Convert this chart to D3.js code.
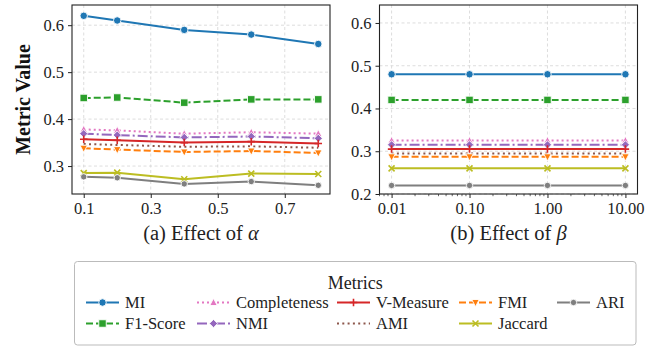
<!DOCTYPE html>
<html>
<head>
<meta charset="utf-8">
<script src="https://cdn.jsdelivr.net/npm/d3@7"></script>
<style>
  body { margin: 0; background: #fff; }
  svg, svg text { font-family: "Liberation Serif", "Times New Roman", serif !important; }
  svg { display: block; }
</style>
</head>
<body>
<div id="chart"></div>
<script>
// ---- data ----
const metrics = ["MI", "F1-Score", "Completeness", "NMI", "V-Measure", "AMI", "FMI", "Jaccard", "ARI"];

const alphaValues = [0.1, 0.2, 0.4, 0.6, 0.8];
const betaValues = [0.01, 0.1, 1, 10];

// one row per metric, same order as `metrics`
const alphaScores = [
    [0.620, 0.610, 0.590, 0.580, 0.560],
    [0.445, 0.446, 0.435, 0.442, 0.442],
    [0.378, 0.376, 0.369, 0.372, 0.369],
    [0.369, 0.366, 0.361, 0.363, 0.359],
    [0.357, 0.355, 0.350, 0.352, 0.348],
    [0.347, 0.345, 0.341, 0.342, 0.339],
    [0.338, 0.335, 0.330, 0.332, 0.328],
    [0.285, 0.286, 0.272, 0.284, 0.283],
    [0.277, 0.275, 0.262, 0.267, 0.259]
];
const betaScores = [
    [0.480, 0.480, 0.480, 0.480],
    [0.420, 0.420, 0.420, 0.420],
    [0.325, 0.325, 0.325, 0.325],
    [0.315, 0.315, 0.315, 0.315],
    [0.305, 0.305, 0.305, 0.305],
    [0.295, 0.295, 0.295, 0.295],
    [0.287, 0.287, 0.287, 0.287],
    [0.260, 0.260, 0.260, 0.260],
    [0.220, 0.220, 0.220, 0.220]
];

const alphaTicks = [0.1, 0.3, 0.5, 0.7];
const betaTicks = [0.01, 0.1, 1, 10];
const alphaYTicks = [0.3, 0.4, 0.5, 0.6];
const betaYTicks = [0.2, 0.3, 0.4, 0.5, 0.6];

// ---- styles ----
const colors = ["#1f77b4", "#2ca02c", "#e377c2", "#9467bd", "#d62728", "#8c564b", "#ff7f0e", "#bcbd22", "#7f7f7f"];
const dashes = ["none", "7,3", "2,3", "10,3,2,3", "none", "2,3.3", "7,3", "none", "none"];
const markers = ["circle", "square", "triangleUp", "diamond", "plus", "none", "triangleDown", "cross", "dot"];
const serif = "'Liberation Serif', 'Times New Roman', serif";

const W = 665, H = 350;
const svg = d3.select("#chart").append("svg")
    .attr("width", W)
    .attr("height", H);

// marker path builder, centred on 0,0
function markerPath(type, s) {
    const h = s / 2;
    switch (type) {
        case "circle": return d3.symbol(d3.symbolCircle, Math.PI * h * h)();
        case "dot": return d3.symbol(d3.symbolCircle, Math.PI * 3.2 * 3.2)();
        case "square": return `M${-h},${-h}H${h}V${h}H${-h}Z`;
        case "triangleUp": return `M0,${-h * 1.1}L${h},${h * 0.8}L${-h},${h * 0.8}Z`;
        case "triangleDown": return `M0,${h * 1.1}L${h},${-h * 0.8}L${-h},${-h * 0.8}Z`;
        case "diamond": return `M0,${-h * 1.1}L${h * 1.1},0L0,${h * 1.1}L${-h * 1.1},0Z`;
        case "plus": return `M${-h},0H${h}M0,${-h}V${h}`;
        case "cross": return `M${-h * 0.8},${-h * 0.8}L${h * 0.8},${h * 0.8}M${h * 0.8},${-h * 0.8}L${-h * 0.8},${h * 0.8}`;
        default: return null;
    }
}

function drawMarker(g, type, color, x, y) {
    if (type === "none") return;
    const p = g.append("path")
        .attr("d", markerPath(type, 7.5))
        .attr("transform", `translate(${x},${y})`);
    if (type === "plus" || type === "cross") {
        p.attr("fill", "none").attr("stroke", color).attr("stroke-width", 1.6);
    } else {
        p.attr("fill", color).attr("stroke", "#fff").attr("stroke-width", 0.9);
    }
}

function drawPanel(opts) {
    const { left, right, y0, y1, x, y, xs, data, xTicks, yTicks, xFormat, label, logMinor } = opts;

    const g = svg.append("g");

    // grid
    const grid = g.append("g").attr("stroke", "#d4d4d4").attr("stroke-width", 0.8).attr("stroke-dasharray", "3,2.5");
    xTicks.forEach(t => grid.append("line")
        .attr("x1", x(t)).attr("x2", x(t)).attr("y1", y0).attr("y2", y1));
    yTicks.forEach(t => grid.append("line")
        .attr("x1", left).attr("x2", right).attr("y1", y(t)).attr("y2", y(t)));

    // series
    const lineGen = d3.line().x(d => x(d[0])).y(d => y(d[1]));
    data.forEach((vals, i) => {
        const pts = xs.map((xv, j) => [xv, vals[j]]);
        g.append("path")
            .attr("d", lineGen(pts))
            .attr("fill", "none")
            .attr("stroke", colors[i])
            .attr("stroke-width", 2)
            .attr("stroke-dasharray", dashes[i]);
    });
    data.forEach((vals, i) => {
        xs.forEach((xv, j) => drawMarker(g, markers[i], colors[i], x(xv), y(vals[j])));
    });

    // axes
    const xAxis = g.append("g")
        .attr("transform", `translate(0,${y1})`)
        .call(d3.axisBottom(x).tickValues(xTicks).tickFormat(xFormat).tickSize(4).tickPadding(4));
    const yAxis = g.append("g")
        .attr("transform", `translate(${left},0)`)
        .call(d3.axisLeft(y).tickValues(yTicks).tickFormat(d3.format(".1f")).tickSize(4).tickPadding(4));
    [xAxis, yAxis].forEach(a => {
        a.attr("font-family", null).attr("font-size", null);
        a.select(".domain").remove();
        a.selectAll("text").style("font-size", "16.5px").style("font-family", serif).attr("fill", "#222");
        a.selectAll("line").attr("stroke", "#222").attr("stroke-width", 1);
    });

    if (logMinor) {
        const [d0, d1] = x.domain();
        const minor = [];
        for (let e = -3; e <= 1; e++) {
            for (let m = 2; m <= 9; m++) {
                const v = m * Math.pow(10, e);
                if (v > d0 && v < d1) minor.push(v);
            }
        }
        g.append("g").selectAll("line").data(minor).join("line")
            .attr("x1", d => x(d)).attr("x2", d => x(d))
            .attr("y1", y1).attr("y2", y1 + 2.2)
            .attr("stroke", "#222").attr("stroke-width", 0.7);
    }

    // frame
    g.append("rect")
        .attr("x", left).attr("y", y0)
        .attr("width", right - left).attr("height", y1 - y0)
        .attr("fill", "none").attr("stroke", "#222").attr("stroke-width", 1.1);

    // x label
    const t = g.append("text")
        .attr("x", (left + right) / 2)
        .attr("y", 239.5)
        .attr("text-anchor", "middle")
        .style("font-size", "20.5px")
        .attr("fill", "#222");
    t.append("tspan").text(label[0]);
    t.append("tspan").attr("font-style", "italic").text(label[1]);
}

// panel (a)
const aLeft = 72, aRight = 330, plotTop = 5, plotBottom = 194;
const xa = d3.scaleLinear().domain([0.065, 0.835]).range([aLeft, aRight]);
const ya = d3.scaleLinear().domain([0.2405, 0.643]).range([plotBottom, plotTop]);
drawPanel({
    left: aLeft, right: aRight, y0: plotTop, y1: plotBottom, x: xa, y: ya,
    xs: alphaValues, data: alphaScores, xTicks: alphaTicks, yTicks: alphaYTicks,
    xFormat: d3.format(".1f"), label: ["(a) Effect of ", "\u03b1"]
});

// panel (b)
const bLeft = 379.5, bRight = 637.5;
const xb = d3.scaleLog().domain([Math.pow(10, -2.155), Math.pow(10, 1.155)]).range([bLeft, bRight]);
const yb = d3.scaleLinear().domain([0.2, 0.642]).range([plotBottom, plotTop]);
drawPanel({
    left: bLeft, right: bRight, y0: plotTop, y1: plotBottom, x: xb, y: yb,
    xs: betaValues, data: betaScores, xTicks: betaTicks, yTicks: betaYTicks,
    xFormat: d3.format(".2f"), label: ["(b) Effect of ", "\u03b2"], logMinor: true
});

// y label
svg.append("text")
    .attr("transform", `translate(30,${(plotTop + plotBottom) / 2}) rotate(-90)`)
    .attr("text-anchor", "middle")
    .style("font-size", "20px")
    .attr("font-weight", "bold")
    .attr("fill", "#111")
    .text("Metric Value");

// ---- legend ----
const legend = svg.append("g");
legend.append("rect")
    .attr("x", 74.5).attr("y", 261.5)
    .attr("width", 561.5).attr("height", 83.5)
    .attr("rx", 3)
    .attr("fill", "#fff")
    .attr("stroke", "#bbb")
    .attr("stroke-width", 1);

legend.append("text")
    .attr("x", (74.5 + 636) / 2)
    .attr("y", 289)
    .attr("text-anchor", "middle")
    .style("font-size", "18px")
    .attr("fill", "#222")
    .text("Metrics");

const colHandleX = [86, 197, 337, 459, 557];
const rowY = [302.5, 323.5];
const handleLen = 33;
metrics.forEach((m, i) => {
    const col = Math.floor(i / 2), row = i % 2;
    const hx = colHandleX[col], hy = rowY[row];
    const item = legend.append("g");
    item.append("line")
        .attr("x1", hx).attr("x2", hx + handleLen)
        .attr("y1", hy).attr("y2", hy)
        .attr("stroke", colors[i])
        .attr("stroke-width", 2)
        .attr("stroke-dasharray", dashes[i]);
    drawMarker(item, markers[i], colors[i], hx + handleLen / 2, hy);
    item.append("text")
        .attr("x", hx + handleLen + 6)
        .attr("y", hy + 5.5)
        .style("font-size", "16.5px")
        .attr("fill", "#222")
        .text(m);
});
</script>
</body>
</html>
